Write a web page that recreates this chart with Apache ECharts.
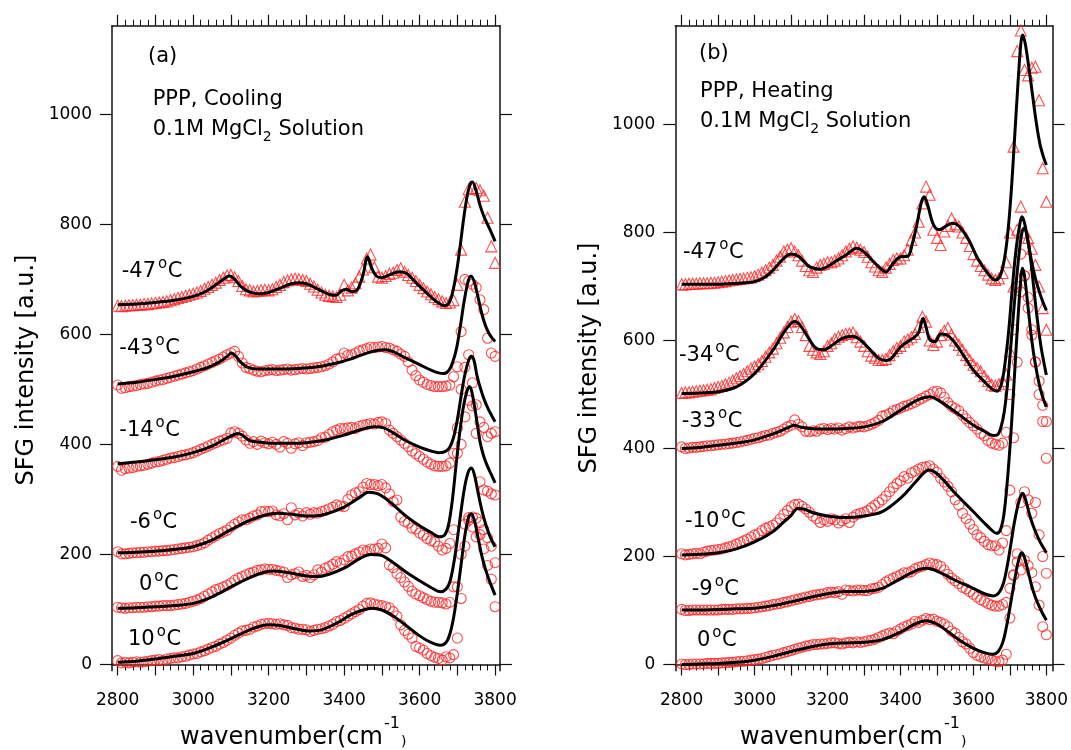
<!DOCTYPE html>
<html>
<head>
<meta charset="utf-8">
<script src="https://cdn.jsdelivr.net/npm/echarts@6/dist/echarts.min.js"></script>
<style>
html,body{margin:0;padding:0;background:#fff;}
#chart{width:1071px;height:750px;}
</style>
</head>
<body>
<div id="chart"></div>
<script>
// Measured wavenumber grid (cm^-1) shared by every spectrum
const wavenumbers = [2800,2810,2820,2830,2840,2850,2860,2870,2880,2890,
  2900,2910,2920,2930,2940,2950,2960,2970,2980,2990,
  3000,3010,3020,3030,3040,3050,3060,3070,3080,3090,
  3100,3110,3120,3130,3140,3150,3160,3170,3180,3190,
  3200,3210,3220,3230,3240,3250,3260,3270,3280,3290,
  3300,3310,3320,3330,3340,3350,3360,3370,3380,3390,
  3400,3410,3420,3430,3440,3450,3460,3470,3480,3490,
  3500,3510,3520,3530,3540,3550,3560,3570,3580,3590,
  3600,3610,3620,3630,3640,3650,3660,3670,3680,3690,
  3700,3710,3720,3730,3740,3750,3760,3770,3780,3790,
  3800];

// Tick values
const majorTicks = [2800,2900,3000,3100,3200,3300,3400,3500,3600,3700,3800];
const xLabelTicks = [2800,3000,3200,3400,3600,3800];
const yTicks = [0,200,400,600,800,1000];

// ---- (a) cooling: measured SFG intensity (offset spectra) ----
const dataA10 = [7,3,4,3,4,5,4,5,6,7, 8,9,7,10,11,12,12,14,15,17, 19,20,23,25,28,31,33,37,40,44,
  48,53,57,61,62,64,68,70,73,74, 75,74,73,74,72,71,67,66,64,64, 63,60,62,64,65,67,70,73,78,80,
  84,88,92,96,100,106,111,112,110,108, 107,105,103,96,88,72,62,55,48,33, 30,26,20,16,13,11,8,14,12,18,
  48,120,215,262,268,232,236,210,180,155, 105];
const dataA0 = [104,103,102,103,103,104,104,104,105,105, 106,106,107,107,107,108,109,110,111,113,
  115,117,120,124,128,132,136,138,141,144, 148,153,157,160,163,166,168,171,172,174,
  173,173,171,170,168,158,163,165,168,160, 162,158,163,172,168,175,178,182,187,184,
  190,196,197,201,204,208,206,210,210,211, 219,212,181,176,165,158,150,142,133,128,
  125,121,118,115,113,113,112,110,113,141, 141,200,255,267,250,266,258,245,230,215, 185];
const dataAm6 = [205,201,201,202,203,203,204,204,205,205, 206,206,207,207,208,209,210,211,212,213,
  214,216,218,221,226,230,234,238,241,244, 250,255,259,263,263,266,270,272,278,279,
  278,279,272,270,274,263,285,272,275,270, 276,273,276,275,278,280,283,286,290,288,
  287,300,308,312,314,322,329,327,327,325, 327,321,310,296,299,268,260,257,248,246,
  239,235,229,225,223,215,208,211,220,245, 384,400,450,480,470,420,332,317,315,310, 308];
const dataAm14 = [360,353,356,357,358,360,361,362,364,366, 368,369,371,373,375,376,378,380,381,383,
  385,388,391,394,397,400,403,406,408,411, 421,423,420,415,408,402,405,400,406,403,
  401,404,400,395,405,402,393,401,403,398, 403,404,405,407,412,413,418,423,426,429,
  429,430,431,429,433,435,436,438,437,440, 441,438,426,420,414,408,402,396,388,383,
  378,373,368,364,361,360,360,361,366,384, 430,500,540,563,512,472,441,431,414,420, 423];
const dataAm43 = [508,502,503,505,506,507,509,510,511,513, 515,517,518,520,522,524,526,528,530,532,
  534,537,540,543,546,549,552,555,559,563, 566,569,560,548,540,538,535,533,532,534,
  535,536,534,535,536,537,535,536,537,538, 537,538,539,540,541,543,546,550,555,557,
  566,562,563,566,570,572,574,577,576,577, 578,576,575,572,569,564,560,550,535,525,
  517,513,509,507,505,505,505,506,508,523, 541,605,700,697,691,685,663,645,593,566, 560];
const dataAm47 = [652,651,652,653,653,654,654,655,655,656, 657,658,659,660,662,664,666,668,670,672,
  674,676,679,683,686,690,694,699,703,707, 708,704,697,688,682,680,678,679,680,681,
  680,682,686,690,695,698,700,701,700,699, 697,692,687,681,676,672,670,669,668,672,
  690,680,685,693,705,718,738,745,722,705, 703,706,710,712,717,720,714,708,703,697,
  690,684,678,673,668,664,660,657,658,662, 690,754,841,864,866,866,862,852,812,760, 730];

// ---- (a) fitted curves [wavenumber, intensity] ----
const fitA10 = [[2800,4],[2850,6],[2900,10],[2950,15],[3000,20],[3050,32],[3100,47],[3150,63],[3200,72],[3230,71],[3270,65],[3310,61],[3340,63],[3380,75],[3420,91],[3450,99],[3475,102],[3500,99],[3530,88],[3560,73],[3600,52],[3630,40],[3655,35],[3670,40],[3680,55],[3690,85],[3700,130],[3710,182],[3720,235],[3730,268],[3737,274],[3745,262],[3755,230],[3765,197],[3775,172],[3785,152],[3800,126]];
const fitA0 = [[2800,102],[2850,103],[2900,105],[2950,107],[3000,111],[3050,123],[3100,141],[3150,158],[3190,168],[3215,170],[3250,167],[3300,161],[3330,160],[3360,164],[3400,175],[3440,192],[3470,200],[3495,199],[3520,190],[3560,170],[3600,152],[3630,140],[3655,132],[3670,137],[3680,150],[3690,182],[3700,228],[3710,280],[3720,325],[3730,352],[3737,357],[3745,345],[3755,312],[3765,280],[3775,255],[3787,232],[3800,214]];
const fitAm6 = [[2800,203],[2850,204],[2900,206],[2950,209],[3000,214],[3050,226],[3100,245],[3150,262],[3200,273],[3225,275],[3260,273],[3300,270],[3320,270],[3350,273],[3400,286],[3440,303],[3465,313],[3490,310],[3520,296],[3560,272],[3600,252],[3630,240],[3653,232],[3667,236],[3677,255],[3687,300],[3697,365],[3707,425],[3717,472],[3727,500],[3733,505],[3740,490],[3750,450],[3760,405],[3770,378],[3780,360],[3790,345],[3800,330]];
const fitAm14 = [[2800,365],[2850,368],[2900,372],[2950,377],[3000,385],[3050,397],[3080,408],[3100,415],[3118,420],[3130,417],[3150,407],[3180,404],[3220,402],[3260,402],[3300,403],[3350,408],[3400,417],[3450,428],[3480,432],[3505,430],[3530,421],[3560,408],[3600,395],[3630,388],[3650,385],[3667,387],[3680,395],[3690,413],[3700,445],[3710,488],[3720,527],[3730,553],[3737,560],[3744,553],[3752,525],[3762,500],[3772,480],[3782,464],[3792,451],[3800,441]];
const fitAm43 = [[2800,510],[2850,513],[2900,518],[2950,524],[3000,532],[3040,540],[3070,550],[3090,560],[3102,566],[3112,561],[3125,550],[3145,540],[3170,537],[3220,537],[3280,538],[3330,541],[3380,548],[3420,556],[3460,566],[3490,571],[3510,572],[3535,567],[3560,558],[3600,545],[3630,535],[3650,530],[3665,529],[3678,535],[3688,550],[3698,575],[3708,615],[3718,660],[3728,695],[3736,706],[3745,695],[3755,667],[3765,637],[3775,615],[3787,598],[3800,587]];
const fitAm47 = [[2800,654],[2850,655],[2900,658],[2950,662],[3000,669],[3030,677],[3060,690],[3080,700],[3096,706],[3110,700],[3125,688],[3140,680],[3160,675],[3180,674],[3200,676],[3230,684],[3260,692],[3280,694],[3300,692],[3320,686],[3340,679],[3360,673],[3378,671],[3393,679],[3405,682],[3420,678],[3435,681],[3450,708],[3462,741],[3472,722],[3485,706],[3500,703],[3520,708],[3545,714],[3565,711],[3590,694],[3610,681],[3630,668],[3650,657],[3665,652],[3677,656],[3687,675],[3697,710],[3707,758],[3717,812],[3727,855],[3735,875],[3740,877],[3750,860],[3760,835],[3770,815],[3780,800],[3790,785],[3800,769]];

// ---- (b) heating: measured SFG intensity ----
const dataB0 = [1,0,0,1,1,1,1,2,2,2, 2,3,3,4,4,5,6,6,7,8, 9,10,11,13,15,17,18,20,22,24,
  26,28,30,32,34,35,37,37,38,38, 39,40,40,39,38,40,41,40,42,41, 42,44,45,47,50,53,56,58,57,62,
  66,70,72,75,80,78,82,85,83,84, 80,78,75,70,62,58,50,42,38,30, 22,17,14,12,10,8,6,5,8,19,
  86,166,190,175,193,183,170,144,110,70, 55];
const dataBm9 = [102,100,100,101,101,101,101,101,101,101, 101,102,102,102,102,103,103,103,104,104,
  105,106,107,108,109,111,112,113,115,116, 118,120,121,123,125,126,128,129,130,131,
  133,134,133,135,130,138,137,136,138,138, 137,137,140,141,143,148,153,157,160,163,
  166,170,170,172,177,180,182,185,188,186, 185,182,175,167,160,155,150,143,140,135,
  130,125,120,117,113,110,108,108,111,115, 141,165,205,300,320,305,280,300,240,200, 169];
const dataBm10 = [205,203,204,205,206,205,208,210,211,212, 213,214,216,218,220,223,226,229,232,236,
  240,242,248,252,255,258,262,270,278,285, 292,296,297,293,288,282,275,270,263,268,
  265,270,268,262,266,270,263,273,278,280, 282,285,290,295,300,305,312,320,328,335,
  340,348,345,355,358,362,365,366,368,362, 356,345,338,330,320,305,295,280,270,260,
  250,240,235,228,222,220,220,212,225,248, 323,420,560,690,720,680,620,560,500,450, 382];
const dataBm33 = [403,400,401,402,402,403,404,405,405,406, 407,408,408,409,410,411,412,414,415,417,
  419,420,422,424,425,428,430,432,436,440, 443,453,445,440,432,431,433,432,436,437,
  435,437,436,438,434,437,440,438,440,441, 440,442,445,448,452,460,462,465,470,472,
  475,478,480,483,486,490,493,497,500,505, 506,503,495,485,478,474,470,462,455,448,
  442,436,428,424,415,410,408,406,410,430, 500,620,700,760,720,660,610,560,525,480, 450];
const dataBm34 = [503,504,504,505,506,507,508,509,510,512, 514,516,519,522,526,530,534,538,543,548,
  552,556,562,570,578,585,595,605,615,625, 635,640,636,625,610,590,583,578,575,580,
  590,595,603,607,610,612,613,615,606,598, 590,580,572,568,564,564,566,573,580,586,
  590,598,602,606,612,625,644,635,600,592, 598,610,618,623,611,600,592,583,573,564,
  555,549,543,534,525,518,516,519,525,537, 580,700,805,848,800,790,770,740,700,660, 620];
const dataBm47 = [704,704,705,705,705,706,706,706,707,707, 708,709,710,711,712,713,714,715,716,717,
  719,722,726,730,735,740,748,755,765,768, 771,765,758,748,738,730,727,735,740,742,
  745,745,748,752,758,765,770,774,772,768, 764,755,745,737,730,727,735,742,749,752,
  752,758,768,786,800,820,854,885,870,805, 790,777,802,812,826,815,811,800,790,775,
  760,748,738,730,722,715,712,715,725,745, 800,959,1136,1174,1101,1091,1105,1107,1045,919, 857];

// ---- (b) fitted curves ----
const fitB0 = [[2800,0],[2850,1],[2900,2],[2950,4],[3000,8],[3050,15],[3100,24],[3150,32],[3200,38],[3250,40],[3300,41],[3350,46],[3400,60],[3440,75],[3470,81],[3500,75],[3530,61],[3560,46],[3600,30],[3630,22],[3655,19],[3668,24],[3680,40],[3690,68],[3700,105],[3710,145],[3720,182],[3728,203],[3733,207],[3740,198],[3750,172],[3760,145],[3770,124],[3780,108],[3790,94],[3800,82]];
const fitBm9 = [[2800,101],[2850,101],[2900,102],[2950,103],[3000,104],[3050,109],[3100,116],[3150,124],[3200,131],[3250,135],[3300,135],[3350,141],[3400,159],[3440,173],[3470,178],[3500,173],[3550,156],[3600,141],[3630,131],[3655,127],[3670,133],[3682,150],[3692,180],[3702,220],[3712,262],[3722,295],[3730,313],[3735,317],[3743,305],[3752,282],[3762,260],[3772,243],[3782,228],[3792,216],[3800,207]];
const fitBm10 = [[2800,203],[2850,204],[2900,207],[2950,214],[3000,227],[3050,246],[3080,264],[3100,276],[3118,289],[3135,288],[3160,281],[3200,275],[3250,272],[3300,275],[3350,283],[3400,308],[3440,337],[3460,352],[3477,360],[3495,356],[3520,340],[3550,317],[3600,283],[3630,262],[3650,249],[3663,243],[3673,248],[3683,275],[3693,340],[3703,430],[3713,540],[3723,650],[3730,715],[3734,734],[3740,720],[3750,660],[3760,600],[3770,555],[3780,520],[3790,495],[3800,477]];
const fitBm33 = [[2800,400],[2850,402],[2900,406],[2950,410],[3000,416],[3050,427],[3090,438],[3108,443],[3125,440],[3150,437],[3200,436],[3250,437],[3300,440],[3350,450],[3400,471],[3450,491],[3480,496],[3500,491],[3550,468],[3600,443],[3630,432],[3655,424],[3665,425],[3675,438],[3685,470],[3695,530],[3705,610],[3715,690],[3725,760],[3733,800],[3739,808],[3745,800],[3755,760],[3765,700],[3775,640],[3785,590],[3793,560],[3800,536]];
const fitBm34 = [[2800,502],[2850,503],[2900,505],[2950,514],[3000,539],[3050,582],[3080,615],[3100,632],[3110,635],[3125,628],[3150,602],[3170,585],[3190,583],[3210,590],[3240,604],[3270,608],[3290,601],[3310,588],[3340,567],[3360,563],[3375,567],[3400,588],[3420,598],[3440,607],[3450,615],[3462,641],[3470,625],[3480,602],[3495,598],[3510,612],[3525,611],[3550,595],[3575,570],[3600,545],[3625,527],[3650,511],[3665,506],[3677,520],[3687,560],[3697,620],[3707,700],[3717,770],[3727,815],[3733,829],[3740,818],[3750,782],[3760,745],[3770,715],[3780,692],[3790,672],[3800,656]];
const fitBm47 = [[2800,704],[2850,704],[2900,704],[2950,706],[3000,709],[3030,718],[3050,730],[3080,752],[3100,760],[3120,756],[3150,737],[3180,732],[3200,737],[3230,750],[3250,758],[3280,771],[3300,764],[3320,750],[3340,737],[3360,727],[3380,743],[3400,755],[3420,756],[3432,778],[3445,815],[3457,855],[3465,866],[3475,850],[3490,815],[3506,805],[3525,812],[3542,817],[3560,812],[3587,786],[3614,749],[3642,722],[3660,712],[3672,718],[3682,740],[3692,785],[3702,860],[3712,965],[3722,1075],[3730,1150],[3735,1166],[3742,1150],[3752,1105],[3762,1055],[3772,1005],[3782,965],[3792,940],[3800,925]];

// Spectra per panel: measured points, fit, marker shape
const panelSeries = [
  [ {pts: dataA10, fit: fitA10, sym: 'circle'},
    {pts: dataA0, fit: fitA0, sym: 'circle'},
    {pts: dataAm6, fit: fitAm6, sym: 'circle'},
    {pts: dataAm14, fit: fitAm14, sym: 'circle'},
    {pts: dataAm43, fit: fitAm43, sym: 'circle'},
    {pts: dataAm47, fit: fitAm47, sym: 'triangle'} ],
  [ {pts: dataB0, fit: fitB0, sym: 'circle'},
    {pts: dataBm9, fit: fitBm9, sym: 'circle'},
    {pts: dataBm10, fit: fitBm10, sym: 'circle'},
    {pts: dataBm33, fit: fitBm33, sym: 'circle'},
    {pts: dataBm34, fit: fitBm34, sym: 'triangle'},
    {pts: dataBm47, fit: fitBm47, sym: 'triangle'} ]
];

// Temperature annotations: panel, left x, centre y, text
const temperatureLabels = [
  [0, 121.7, 272, '-47'], [0, 119.3, 349, '-43'], [0, 119.3, 431, '-14'], [0, 130, 523, '-6'], [0, 139, 585, '0'], [0, 128, 640, '10'],
  [1, 683, 253, '-47'], [1, 679, 356, '-34'], [1, 681.7, 422, '-33'], [1, 685, 522, '-10'], [1, 691.7, 590, '-9'], [1, 697, 641, '0']
];

// Layout of the two frames and their axis ranges
const frames = [
  {left: 112, top: 25.7, width: 388, height: 645, xMin: 2785, xMax: 3813, yMin: -11.3, yMax: 1161},
  {left: 675.3, top: 25.7, width: 378.7, height: 645, xMin: 2782.5, xMax: 3817, yMin: -11.5, yMax: 1183}
];

const FONT = 'DejaVu Sans';
const INK = '#111';
const minorTicks = [];
for (let v = 2800; v <= 3800; v += 20) if (v % 100 !== 0) minorTicks.push(v);
const plain = v => String(Math.round(v));

const chart = echarts.init(document.getElementById('chart'), null, {renderer: 'canvas'});

const grids = [], xAxes = [], yAxes = [], series = [];
frames.forEach((f, gi) => {
  grids.push({left: f.left, top: f.top, width: f.width, height: f.height, containLabel: false});
  const baseX = {gridIndex: gi, type: 'value', min: f.xMin, max: f.xMax, splitLine: {show: false}};
  // bottom: frame line, major ticks, labels
  xAxes.push(Object.assign({}, baseX, {
    position: 'bottom',
    axisLine: {show: true, lineStyle: {color: INK, width: 1.5}},
    axisTick: {show: true, inside: false, length: 11, customValues: majorTicks, lineStyle: {color: INK, width: 1.2}},
    axisLabel: {show: true, customValues: xLabelTicks, formatter: plain, margin: 21, color: '#000', fontFamily: FONT, fontSize: 17}
  }));
  // bottom minor ticks
  xAxes.push(Object.assign({}, baseX, {
    position: 'bottom',
    axisLine: {show: false},
    axisTick: {show: true, inside: false, length: 6, customValues: minorTicks, lineStyle: {color: INK, width: 1}},
    axisLabel: {show: false}
  }));
  // top mirror: frame line, major ticks
  xAxes.push(Object.assign({}, baseX, {
    position: 'top',
    axisLine: {show: true, lineStyle: {color: INK, width: 1.5}},
    axisTick: {show: true, inside: false, length: 11, customValues: majorTicks, lineStyle: {color: INK, width: 1.2}},
    axisLabel: {show: false}
  }));
  // top minor ticks
  xAxes.push(Object.assign({}, baseX, {
    position: 'top',
    axisLine: {show: false},
    axisTick: {show: true, inside: false, length: 6, customValues: minorTicks, lineStyle: {color: INK, width: 1}},
    axisLabel: {show: false}
  }));
  const baseY = {gridIndex: gi, type: 'value', min: f.yMin, max: f.yMax, splitLine: {show: false}};
  yAxes.push(Object.assign({}, baseY, {
    position: 'left',
    axisLine: {show: true, lineStyle: {color: INK, width: 1.5}},
    axisTick: {show: true, inside: false, length: 12, customValues: yTicks, lineStyle: {color: INK, width: 1.2}},
    axisLabel: {show: true, customValues: yTicks, formatter: plain, margin: 20, color: '#000', fontFamily: FONT, fontSize: 17}
  }));
  yAxes.push(Object.assign({}, baseY, {
    position: 'right',
    axisLine: {show: true, lineStyle: {color: INK, width: 1.5}},
    axisTick: {show: true, inside: false, length: 12, customValues: yTicks, lineStyle: {color: INK, width: 1.2}},
    axisLabel: {show: false}
  }));

  const xi = gi * 4, yi = gi * 2;
  panelSeries[gi].forEach(s => {
    series.push({
      type: 'scatter', xAxisIndex: xi, yAxisIndex: yi, z: 2,
      symbol: s.sym, symbolSize: s.sym === 'triangle' ? 11 : 10,
      itemStyle: {color: 'rgba(255,255,255,0)', borderColor: '#ff2222', borderWidth: 1.1},
      emphasis: {disabled: true}, silent: true,
      data: wavenumbers.map((w, i) => [w, s.pts[i]])
    });
  });
  panelSeries[gi].forEach(s => {
    series.push({
      type: 'line', xAxisIndex: xi, yAxisIndex: yi, z: 3,
      showSymbol: false, symbol: 'none', smooth: 0.35,
      lineStyle: {color: '#000', width: 3},
      emphasis: {disabled: true}, silent: true,
      data: s.fit
    });
  });
});

// Text annotations
const measureCtx = document.createElement('canvas').getContext('2d');
function textWidth(text, size) {
  measureCtx.font = size + 'px "' + FONT + '"';
  return measureCtx.measureText(text).width;
}
function txt(x, y, text, size, extra) {
  return Object.assign({
    type: 'text', silent: true, z: 10,
    style: {x: x, y: y, text: text, fill: '#000', fontFamily: FONT, fontSize: size, align: 'left', verticalAlign: 'middle'}
  }, extra || {});
}
// temperature label: digits, raised small "o", then C
function temperature(x, y, t) {
  const w = textWidth(t, 21);
  const wo = textWidth('o', 15);
  return [
    txt(x, y, t, 21),
    txt(x + w + 2, y - 8, 'o', 15),
    txt(x + w + 2 + wo + 0.5, y, 'C', 21)
  ];
}
// solution line with subscript 2
function solution(x, y) {
  const w1 = textWidth('0.1M MgCl', 21);
  const w2 = textWidth('2', 14);
  return [
    txt(x, y, '0.1M MgCl', 21),
    txt(x + w1, y + 7, '2', 14),
    txt(x + w1 + w2, y, ' Solution', 21)
  ];
}
// axis title with superscript -1
function xTitle(x, y) {
  const w = textWidth('wavenumber(cm', 24);
  return [
    txt(x, y, 'wavenumber(cm', 24),
    txt(x + w + 1, y - 14.5, '-1', 16),
    txt(x + w + 18, y + 4, ')', 14)
  ];
}

let graphics = [
  txt(148, 57, '(a)', 21),
  txt(152.7, 100, 'PPP, Cooling', 21),
  txt(699, 54, '(b)', 21),
  txt(700, 92, 'PPP, Heating', 21),
  // y axis titles, rotated about their centre
  Object.assign(txt(0, 0, 'SFG intensity [a.u.]', 24), {x: 27, y: 370, rotation: Math.PI / 2}),
  Object.assign(txt(0, 0, 'SFG intensity [a.u.]', 24), {x: 590, y: 358, rotation: Math.PI / 2})
];
graphics.slice(-2).forEach(g => { g.style.align = 'center'; });
graphics = graphics.concat(solution(152.7, 130), solution(700, 122), xTitle(180, 738), xTitle(740, 738));
temperatureLabels.forEach(l => { graphics = graphics.concat(temperature(l[1], l[2], l[3])); });

chart.setOption({
  animation: false,
  backgroundColor: '#fff',
  grid: grids,
  xAxis: xAxes,
  yAxis: yAxes,
  series: series,
  graphic: {elements: graphics}
});
</script>
</body>
</html>
